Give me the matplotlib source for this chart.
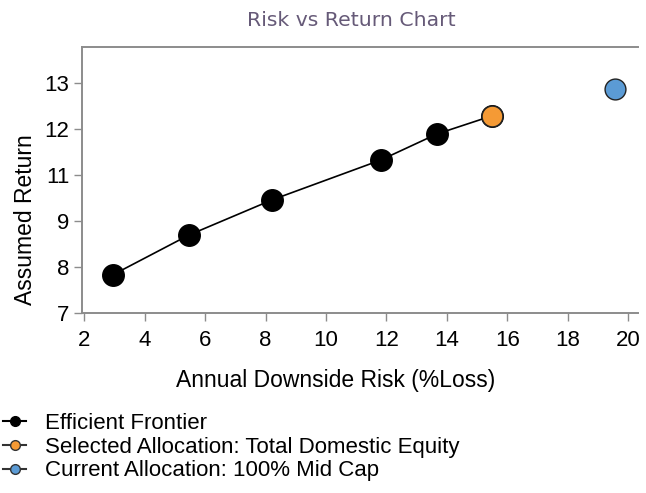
import matplotlib.pyplot as plt
from matplotlib.lines import Line2D

# data
frontier_risk = [2.95, 5.45, 8.21, 11.81, 13.67, 15.48]
frontier_return = [8.0, 9.03, 9.95, 10.99, 11.67, 12.14]
selected_risk = [15.48]
selected_return = [12.14]
current_risk = [19.56]
current_return = [12.84]

x_ticks = [2, 4, 6, 8, 10, 12, 14, 16, 18, 20]
y_ticks = [7, 8.2, 9.4, 10.6, 11.8, 13]
y_tick_labels = ["7", "8", "9", "11", "12", "13"]

legend_labels = ["Efficient Frontier",
                 "Selected Allocation: Total Domestic Equity",
                 "Current Allocation: 100% Mid Cap"]

orange = "#f59a35"
blue = "#5b9bd5"
spine_grey = "#8c8c8c"

plt.rcParams['font.family'] = ['Liberation Sans', 'DejaVu Sans']

fig = plt.figure(figsize=(6.46, 4.93), dpi=100)
ax = fig.add_axes([82/646, 1 - 313/493, (638 - 82)/646, (313 - 47)/493])

# frontier line and points
ax.plot(frontier_risk, frontier_return, '-', color="black", linewidth=1.2, zorder=2)
ax.plot(frontier_risk, frontier_return, 'o', color="black", markersize=15.5, zorder=3)
ax.plot(selected_risk, selected_return, 'o', color=orange, markersize=15,
        markeredgecolor="#222222", markeredgewidth=1.0, zorder=4)
ax.plot(current_risk, current_return, 'o', color=blue, markersize=15,
        markeredgecolor="#222222", markeredgewidth=1.0, zorder=4)

ax.set_xlim(1.92, 20.33)
ax.set_ylim(7, 13.94)
ax.set_xticks(x_ticks)
ax.set_yticks(y_ticks)
ax.set_yticklabels(y_tick_labels)

ax.spines["right"].set_visible(False)
for side in ["left", "bottom", "top"]:
    ax.spines[side].set_color(spine_grey)
    ax.spines[side].set_linewidth(1.4)

ax.tick_params(axis='both', direction='out', length=6, width=1, color=spine_grey,
               labelsize=16, labelcolor="black")
ax.tick_params(axis='x', pad=6)
ax.tick_params(axis='y', pad=3)

ax.set_xlabel("Annual Downside Risk (%Loss)", fontsize=16.5)
ax.xaxis.set_label_coords(0.457, -0.212)
ax.set_ylabel("Assumed Return", fontsize=16.5)
ax.yaxis.set_label_coords(-0.081, 0.35)

fig.text(351/646, 1 - 20/493, "Risk vs Return Chart", ha='center', va='center',
         fontsize=14.7, color="#665a78", family=['DejaVu Sans'])

# legend below the chart
handles = [
    Line2D([], [], color="black", linewidth=1.5, marker='o', markersize=7,
           markerfacecolor="black", markeredgecolor="black"),
    Line2D([], [], color="#333333", linewidth=1.5, marker='o', markersize=7,
           markerfacecolor=orange, markeredgecolor="#333333"),
    Line2D([], [], color="#333333", linewidth=1.5, marker='o', markersize=7,
           markerfacecolor=blue, markeredgecolor="#333333"),
]
fig.legend(handles, legend_labels, loc='upper left', bbox_to_anchor=(3/646, 1 - 413/493),
           frameon=False, fontsize=16, handlelength=1.05, handletextpad=0.85,
           labelspacing=0.12, borderpad=0, borderaxespad=0)

fig.savefig("out.png", dpi=100)
